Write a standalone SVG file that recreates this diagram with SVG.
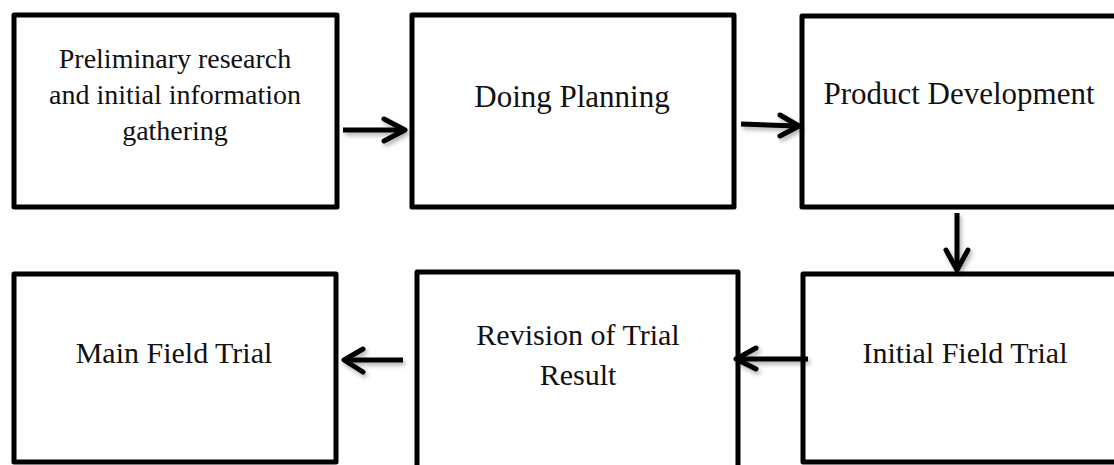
<svg xmlns="http://www.w3.org/2000/svg" width="1114" height="465" viewBox="0 0 1114 465">
<style>
.box{fill:#fff;stroke:#000;stroke-width:5;stroke-linejoin:round}
.lbl{font-family:"Liberation Serif","Times New Roman",serif;fill:#111;text-anchor:middle}
.arr{fill:none;stroke:#000;stroke-width:5;stroke-linecap:butt}
.head{fill:none;stroke:#000;stroke-width:5;stroke-linecap:round;stroke-linejoin:round}
</style>
<defs>
<filter id="sh" x="-30%" y="-50%" width="160%" height="200%">
<feDropShadow dx="2" dy="3" stdDeviation="2" flood-color="#000" flood-opacity="0.3"/>
</filter>
</defs>
<rect width="1114" height="465" fill="#fff"/>
<g id="n1"><rect class="box" x="14" y="15" width="323" height="192"/>
<text class="lbl" font-size="28"><tspan x="175" y="68">Preliminary research</tspan><tspan x="175" y="104">and initial information</tspan><tspan x="175" y="140">gathering</tspan></text></g>
<g id="n2"><rect class="box" x="412" y="15" width="322" height="192"/>
<text class="lbl" font-size="31" x="572" y="107">Doing Planning</text></g>
<g id="n3"><rect class="box" x="802" y="16" width="330" height="191"/>
<text class="lbl" font-size="31" x="959" y="104">Product Development</text></g>
<g id="n4"><rect class="box" x="803" y="274" width="330" height="188"/>
<text class="lbl" font-size="30" x="965" y="363">Initial Field Trial</text></g>
<g id="n5"><rect class="box" x="417" y="272" width="321" height="220"/>
<text class="lbl" font-size="30"><tspan x="578" y="345">Revision of Trial</tspan><tspan x="578" y="385">Result</tspan></text></g>
<g id="n6"><rect class="box" x="14" y="274" width="322" height="188"/>
<text class="lbl" font-size="30" x="174" y="363">Main Field Trial</text></g>
<g id="connectors" filter="url(#sh)">
<path class="arr" d="M343,130 L404,130"/><path class="head" d="M384,119 L405,130 L384,141"/>
<path class="arr" d="M741,124 L797,126"/><path class="head" d="M780,115 L799,126 L780,136"/>
<path class="arr" d="M957,213 L957,268"/><path class="head" d="M946,250 L957,270 L968,250"/>
<path class="arr" d="M808,359 L738,359"/><path class="head" d="M756,348 L736,359 L756,369"/>
<path class="arr" d="M403,360 L346,360"/><path class="head" d="M363,349 L344,360 L363,372"/>
</g>
</svg>
